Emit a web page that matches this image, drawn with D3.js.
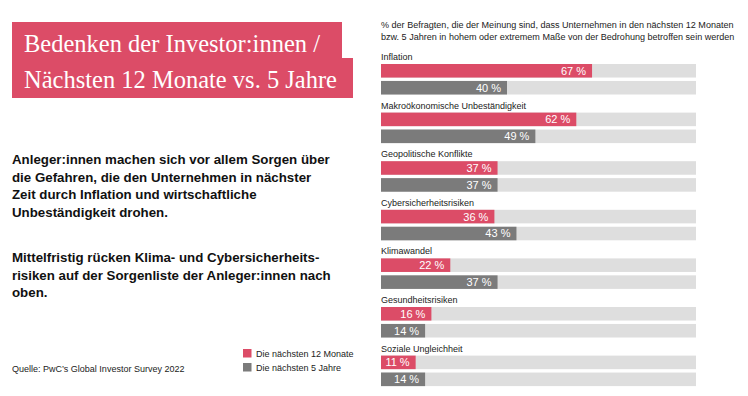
<!DOCTYPE html>
<html>
<head>
<meta charset="utf-8">
<script src="https://cdn.jsdelivr.net/npm/d3@7"></script>
<style>
  html, body { margin: 0; padding: 0; background: #fff; }
  svg { display: block; }
</style>
</head>
<body>
<div id="chart"></div>
<script>
// Data
const categories = [
  'Inflation',
  'Makroökonomische Unbeständigkeit',
  'Geopolitische Konflikte',
  'Cybersicherheitsrisiken',
  'Klimawandel',
  'Gesundheitsrisiken',
  'Soziale Ungleichheit'
];
const values12Months = [67, 62, 37, 36, 22, 16, 11];
const values5Years = [40, 49, 37, 43, 37, 14, 14];
const seriesKeys = ['m12', 'y5'];
const seriesLabels = ['Die nächsten 12 Monate', 'Die nächsten 5 Jahre'];

const titleLines = ['Bedenken der Investor:innen /', 'Nächsten 12 Monate vs. 5 Jahre'];
const subtitleLines = [
  '% der Befragten, die der Meinung sind, dass Unternehmen in den nächsten 12 Monaten',
  'bzw. 5 Jahren in hohem oder extremem Maße von der Bedrohung betroffen sein werden'
];
const paragraph1 = [
  'Anleger:innen machen sich vor allem Sorgen über',
  'die Gefahren, die den Unternehmen in nächster',
  'Zeit durch Inflation und wirtschaftliche',
  'Unbeständigkeit drohen.'
];
const paragraph2 = [
  'Mittelfristig rücken Klima- und Cybersicherheits-',
  'risiken auf der Sorgenliste der Anleger:innen nach',
  'oben.'
];
const sourceText = 'Quelle: PwC\u2019s Global Investor Survey 2022';

const colors = { m12: '#dc4c67', y5: '#7b7b7b', track: '#dedede', text: '#222' };
const sans = '"Liberation Sans", Arial, Helvetica, sans-serif';

const width = 748, height = 396;
const svg = d3.select('#chart').append('svg')
  .attr('width', width)
  .attr('height', height);

// Title box (two stacked boxes)
const title = svg.append('g');
title.append('rect').attr('x', 12).attr('y', 22).attr('width', 330).attr('height', 37).attr('fill', colors.m12);
title.append('rect').attr('x', 12).attr('y', 58).attr('width', 341).attr('height', 40).attr('fill', colors.m12);
title.selectAll('text')
  .data(titleLines)
  .enter()
  .append('text')
  .attr('x', 24)
  .attr('y', (d, i) => 52 + i * 36)
  .attr('fill', '#fff')
  .style('font-family', '"Liberation Serif", "DejaVu Serif", serif')
  .style('font-size', '24.5px')
  .text(d => d);

// Body text
const body = svg.append('g')
  .style('font-family', sans)
  .style('font-weight', 'bold')
  .style('font-size', '13.3px')
  .attr('fill', '#111');
body.selectAll('text.p1')
  .data(paragraph1)
  .enter()
  .append('text')
  .attr('x', 12)
  .attr('y', (d, i) => 164 + i * 17.6)
  .text(d => d);
body.selectAll('text.p2')
  .data(paragraph2)
  .enter()
  .append('text')
  .attr('x', 12)
  .attr('y', (d, i) => 262 + i * 17.6)
  .text(d => d);

svg.append('text')
  .attr('x', 12)
  .attr('y', 372)
  .attr('fill', '#222')
  .style('font-family', sans)
  .style('font-size', '9px')
  .text(sourceText);

// Legend
const legend = svg.append('g')
  .selectAll('g')
  .data(seriesKeys)
  .enter()
  .append('g')
  .attr('transform', (d, i) => `translate(243,${349 + i * 14})`);
legend.append('rect')
  .attr('width', 8.5)
  .attr('height', 8.5)
  .attr('fill', d => colors[d]);
legend.append('text')
  .attr('x', 13)
  .attr('y', 7.5)
  .attr('fill', '#222')
  .style('font-family', sans)
  .style('font-size', '9px')
  .text((d, i) => seriesLabels[i]);

// Subtitle
svg.append('g')
  .selectAll('text')
  .data(subtitleLines)
  .enter()
  .append('text')
  .attr('x', 381)
  .attr('y', (d, i) => 28 + i * 12)
  .attr('fill', '#222')
  .style('font-family', sans)
  .style('font-size', '9.05px')
  .text(d => d);

// Scales
const x = d3.scaleLinear().domain([0, 100]).range([381, 696]);
const yGroup = d3.scaleBand().domain(categories).range([50, 50 + categories.length * 48.6]);
const ySeries = d3.scaleBand().domain(seriesKeys).range([14, 44.5]).paddingInner(0.2);

const rows = categories.map((c, i) => ({ category: c, m12: values12Months[i], y5: values5Years[i] }));

const groups = svg.append('g')
  .selectAll('g')
  .data(rows)
  .enter()
  .append('g')
  .attr('transform', d => `translate(0,${yGroup(d.category)})`);

groups.append('text')
  .attr('x', 381)
  .attr('y', 10)
  .attr('fill', '#222')
  .style('font-family', sans)
  .style('font-size', '9px')
  .text(d => d.category);

const bars = groups.selectAll('g.bar')
  .data(d => seriesKeys.map(k => ({ key: k, value: d[k] })))
  .enter()
  .append('g')
  .attr('class', 'bar')
  .attr('transform', d => `translate(0,${ySeries(d.key)})`);

bars.append('rect')
  .attr('x', x(0))
  .attr('width', x(100) - x(0))
  .attr('height', ySeries.bandwidth())
  .attr('fill', colors.track);

bars.append('rect')
  .attr('x', x(0))
  .attr('width', d => x(d.value) - x(0))
  .attr('height', ySeries.bandwidth())
  .attr('fill', d => colors[d.key]);

bars.append('text')
  .attr('x', d => x(d.value) - 6)
  .attr('y', ySeries.bandwidth() / 2)
  .attr('dy', '0.36em')
  .attr('text-anchor', 'end')
  .attr('fill', '#fff')
  .style('font-family', sans)
  .style('font-size', '11px')
  .text(d => `${d.value}\u00a0%`);
</script>
</body>
</html>
